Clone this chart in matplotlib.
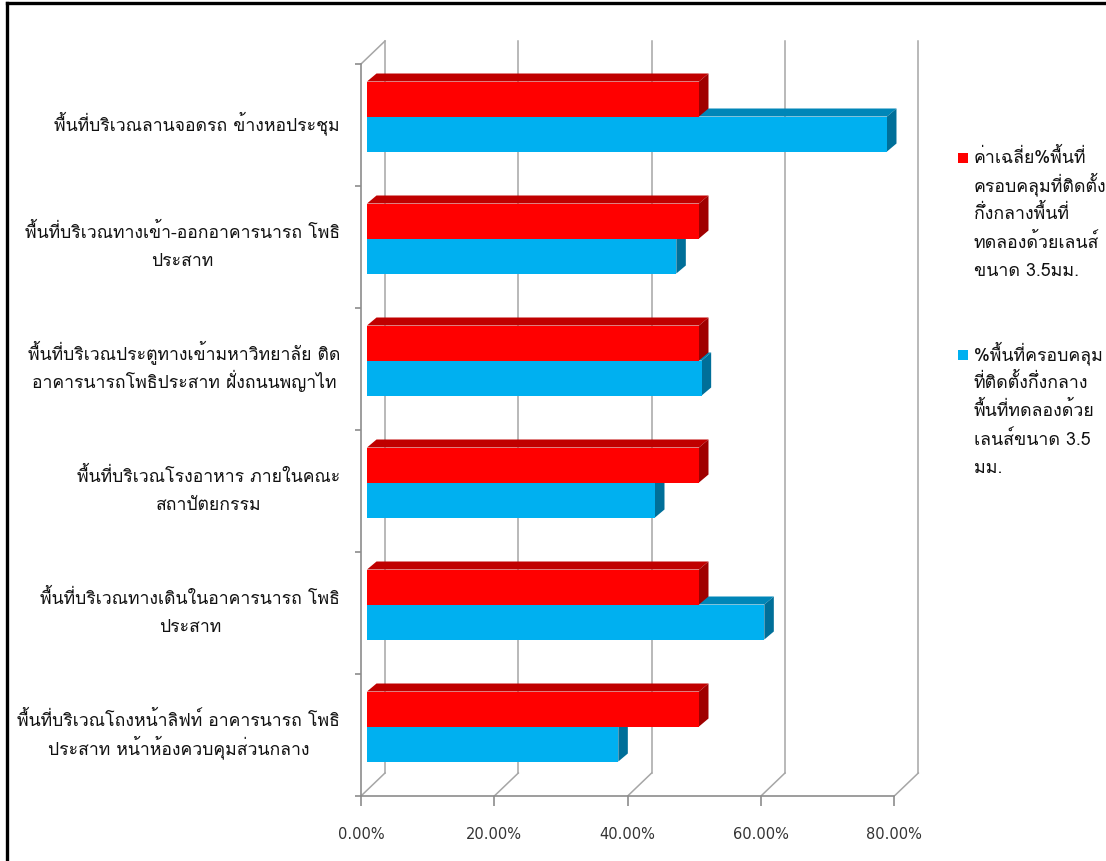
import matplotlib
matplotlib.use("Agg")
import matplotlib.pyplot as plt
from matplotlib import font_manager
from matplotlib.ft2font import FT2Font
from matplotlib.font_manager import FontProperties
from matplotlib.patches import Polygon, Rectangle
from matplotlib.lines import Line2D
from matplotlib.ticker import FixedLocator, FuncFormatter, NullFormatter


def thai_family():
    """Return the name of an installed font that carries Thai glyphs."""
    fallback = None
    for fe in font_manager.fontManager.ttflist:
        try:
            cmap = FT2Font(fe.fname).get_charmap()
        except Exception:
            continue
        if 0x0E01 in cmap and 0x0E34 in cmap and 0x0E49 in cmap:
            if fe.style == "normal" and fe.weight in (400, "normal", "regular"):
                return fe.name
            fallback = fallback or fe.name
    return fallback


fam = thai_family()
FAMILIES = [fam, "DejaVu Sans"] if fam else ["DejaVu Sans"]
plt.rcParams["font.family"] = FAMILIES

# ---- data (top to bottom) ----
categories = [
    "พื้นที่บริเวณลานจอดรถ ข้างหอประชุม",
    "พื้นที่บริเวณทางเข้า-ออกอาคารนารถ โพธิ\nประสาท",
    "พื้นที่บริเวณประตูทางเข้ามหาวิทยาลัย ติด\nอาคารนารถโพธิประสาท ฝั่งถนนพญาไท",
    "พื้นที่บริเวณโรงอาหาร ภายในคณะ\nสถาปัตยกรรม",
    "พื้นที่บริเวณทางเดินในอาคารนารถ โพธิ\nประสาท",
    "พื้นที่บริเวณโถงหน้าลิฟท์ อาคารนารถ โพธิ\nประสาท หน้าห้องควบคุมส่วนกลาง",
]
avg_coverage = [0.498, 0.498, 0.498, 0.498, 0.498, 0.498]
coverage = [0.780, 0.464, 0.502, 0.432, 0.596, 0.377]
x_ticks = [0.0, 0.2, 0.4, 0.6, 0.8]

avg_label = "ค่าเฉลี่ย%พื้นที่\nครอบคลุมที่ติดตั้ง\nกึ่งกลางพื้นที่\nทดลองด้วยเลนส์\nขนาด 3.5มม."
cov_label = "%พื้นที่ครอบคลุม\nที่ติดตั้งกึ่งกลาง\nพื้นที่ทดลองด้วย\nเลนส์ขนาด 3.5\nมม."

# ---- colours ----
RED, RED_TOP, RED_SIDE = "#ff0000", "#c00000", "#a00000"
BLUE, BLUE_TOP, BLUE_SIDE = "#00b0f0", "#0086b8", "#006f99"
GRID = "#a6a6a6"
AXIS = "#8c8c8c"
TEXT = "#111111"

W, H = 1106, 861
fig = plt.figure(figsize=(W / 100, H / 100), dpi=100)
fig.patch.set_facecolor("white")

# plot box in pixels (front plane: x 0 -> px 361, y 0 -> px 796 from top)
px_left, px_right, px_top, px_bottom = 361, 940, 30, 796
x_per_px = 0.2 / 133.33
y_per_px = 1.0 / 122.0
ax = fig.add_axes([px_left / W, (H - px_bottom) / H,
                   (px_right - px_left) / W, (px_bottom - px_top) / H])
ax.set_xlim(0, (px_right - px_left) * x_per_px)
ax.set_ylim(0, (px_bottom - px_top) * y_per_px)
ax.patch.set_alpha(0)

n = len(categories)

# depth of the back wall and of the bars, in data units
back_dx, back_dy = 24 * x_per_px, 23 * y_per_px
bar_sx, bar_sy = 6 * x_per_px, 8.5 * y_per_px
bar_dx, bar_dy = 9.5 * x_per_px, 8 * y_per_px
bar_h = 35 * y_per_px

# back wall gridlines and floor diagonals
for xv in x_ticks:
    ax.add_line(Line2D([xv + back_dx, xv + back_dx], [back_dy, n + back_dy],
                       color=GRID, lw=1.1, zorder=1))
    ax.add_line(Line2D([xv, xv + back_dx], [0, back_dy], color=GRID, lw=1.1, zorder=1))
ax.add_line(Line2D([0, back_dx], [n, n + back_dy], color=GRID, lw=1.1, zorder=1))


def faces(ax, y0, value, top, side, z):
    """Draw the top and side faces of a bar whose front face spans y0..y0+bar_h."""
    x0 = bar_sx
    x1 = bar_sx + value
    y1 = y0 + bar_h
    ax.add_patch(Polygon([(x0, y1), (x1, y1), (x1 + bar_dx, y1 + bar_dy),
                          (x0 + bar_dx, y1 + bar_dy)], closed=True,
                         facecolor=top, edgecolor="none", zorder=z))
    ax.add_patch(Polygon([(x1, y0), (x1, y1), (x1 + bar_dx, y1 + bar_dy),
                          (x1 + bar_dx, y0 + bar_dy)], closed=True,
                         facecolor=side, edgecolor="none", zorder=z))


centers = [n - 0.5 - i for i in range(n)]
blue_y = [c + bar_sy - bar_h for c in centers]
red_y = [c + bar_sy for c in centers]

for i in range(n):
    faces(ax, blue_y[i], coverage[i], BLUE_TOP, BLUE_SIDE, 2 + 2 * i)
    faces(ax, red_y[i], avg_coverage[i], RED_TOP, RED_SIDE, 3 + 2 * i)

blue_bars = ax.barh(blue_y, coverage, height=bar_h, left=bar_sx, align="edge",
                    color=BLUE, edgecolor="none")
red_bars = ax.barh(red_y, avg_coverage, height=bar_h, left=bar_sx, align="edge",
                   color=RED, edgecolor="none")
for i in range(n):
    blue_bars[i].set_zorder(2.5 + 2 * i)
    red_bars[i].set_zorder(3.5 + 2 * i)

# front axes
for s in ("top", "right"):
    ax.spines[s].set_visible(False)
ax.spines["left"].set_bounds(0, n)
ax.spines["bottom"].set_bounds(0, x_ticks[-1])
for s in ("left", "bottom"):
    ax.spines[s].set_color(AXIS)
    ax.spines[s].set_linewidth(1.2)
    ax.spines[s].set_zorder(20)

ax.xaxis.set_major_locator(FixedLocator(x_ticks))
ax.xaxis.set_major_formatter(FuncFormatter(lambda v, p: f"{v * 100:.2f}%"))
ax.tick_params(axis="x", direction="out", length=7, width=1.2, color=AXIS,
               pad=15, labelsize=10.5, labelcolor="#333333")
for t in ax.get_xticklabels():
    t.set_family(["DejaVu Sans"])

ax.yaxis.set_major_locator(FixedLocator(list(range(n + 1))))
ax.yaxis.set_major_formatter(NullFormatter())
ax.tick_params(axis="y", which="major", direction="out", length=4, width=1.2, color=AXIS)

# category labels: each line on its own fixed baseline, lines centred on each other
renderer = fig.canvas.get_renderer()
label_fp = FontProperties(family=FAMILIES, size=12.7)
label_gap = 21      # px between the right edge of the labels and the axis
line_step = 29      # px between successive lines
for c, label in zip(centers, categories):
    lines = label.split("\n")
    widths = [renderer.get_text_width_height_descent(s, label_fp, ismath=False)[0]
              for s in lines]
    mid = -label_gap - max(widths) / 2
    m = len(lines)
    for k, s in enumerate(lines):
        off = (k - (m - 1) / 2) * line_step
        ax.annotate(s, xy=(0, c), xycoords="data",
                    xytext=(mid, -off - 5), textcoords="offset pixels",
                    ha="center", va="baseline", fontproperties=label_fp,
                    color=TEXT, annotation_clip=False)


# legend: square marker beside the first line of a wrapped label
def legend_entry(py, color, text):
    fig.add_artist(Rectangle((958 / W, (H - py - 5) / H), 10 / W, 10 / H,
                             transform=fig.transFigure, facecolor=color,
                             edgecolor="none"))
    for k, s in enumerate(text.split("\n")):
        fig.text(974 / W, (H - py - 5 - 28.2 * k) / H, s, ha="left", va="baseline",
                 fontsize=12.8, color=TEXT, transform=fig.transFigure)


legend_entry(158, RED, avg_label)
legend_entry(355, BLUE, cov_label)

# outer frame
fig.add_artist(Line2D([7 / W, 7 / W], [0, (H - 3) / H], color="black", lw=2.4,
                      transform=fig.transFigure))
fig.add_artist(Line2D([7 / W, 1], [(H - 3) / H, (H - 3) / H], color="black", lw=2.4,
                      transform=fig.transFigure))

fig.savefig("out.png", dpi=100)
